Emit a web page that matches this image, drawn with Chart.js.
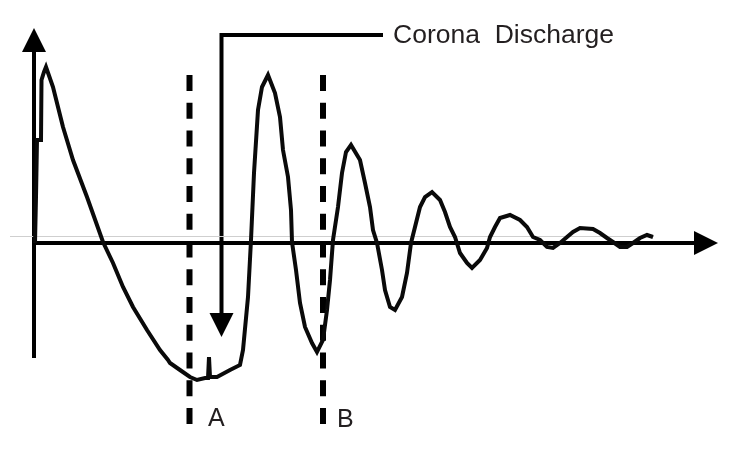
<!DOCTYPE html>
<html>
<head>
<meta charset="utf-8">
<script src="https://cdn.jsdelivr.net/npm/chart.js@4/dist/chart.umd.min.js"></script>
<style>
  html, body { margin: 0; padding: 0; background: #fff; }
  #wrap { width: 733px; height: 457px; }
</style>
</head>
<body>
<div id="wrap"><canvas id="c" width="733" height="457"></canvas></div>
<script>
// ---- data (time units, amplitude units) ----
const timeValues = [0.1, 0.2, 0.3, 0.7, 0.75, 1.0, 1.2, 1.9, 2.9, 3.9, 5.3, 6.9, 7.9, 8.9, 9.9, 11.3, 12.6, 13.4, 13.6, 14.6, 15.6, 16.3, 17.1, 17.4, 17.5, 17.6, 18.3, 19.6, 20.6, 20.9, 21.4, 21.7, 22.0, 22.4, 22.8, 23.4, 24.1, 24.6, 24.9, 25.4, 25.7, 25.8, 26.2, 26.6, 27.1, 27.8, 28.3, 28.9, 29.3, 29.6, 29.9, 30.4, 30.8, 31.2, 31.7, 32.6, 33.1, 33.6, 33.9, 34.3, 34.8, 35.1, 35.6, 36.1, 36.8, 37.3, 37.7, 38.1, 38.6, 39.1, 39.8, 40.6, 41.1, 41.6, 42.1, 42.6, 43.3, 43.8, 44.6, 45.3, 45.6, 46.1, 46.6, 47.6, 48.6, 49.3, 49.9, 50.6, 51.3, 51.9, 52.6, 53.3, 53.9, 54.6, 55.9, 56.6, 57.3, 57.9, 58.6, 59.3, 59.9, 60.6, 61.3, 61.9];
const signalValues = [0, 4.6, 10.3, 10.3, 16.3, 17.1, 17.6, 15.6, 11.6, 8.3, 4.6, 0.1, -2.0, -4.4, -6.4, -8.7, -10.7, -11.7, -12.0, -12.7, -13.4, -13.7, -13.5, -13.5, -11.4, -13.4, -13.4, -12.7, -12.2, -10.7, -5.4, 0.3, 7.0, 13.3, 15.6, 16.8, 15.0, 12.6, 9.3, 6.6, 3.3, 0.1, -2.7, -6.0, -8.4, -10.0, -10.9, -9.7, -6.7, -3.7, 0.3, 3.6, 7.0, 9.1, 9.8, 8.3, 6.0, 3.6, 1.3, 0, -2.7, -4.7, -6.4, -6.7, -5.4, -3.0, 0, 1.6, 3.6, 4.6, 5.1, 4.3, 3.1, 1.6, 0.6, -1.0, -2.0, -2.5, -1.7, -0.5, 0.6, 1.6, 2.5, 2.8, 2.3, 1.6, 0.6, 0.3, -0.4, -0.5, 0, 0.6, 1.1, 1.5, 1.4, 1.0, 0.5, 0.1, -0.4, -0.4, 0, 0.5, 0.8, 0.6];
const baselineTimes = [-2.4, 62.0];
const baselineLevel = [0.65, 0.65];
const markerLabels = ['A', 'B'];
const markerTimes = [15.55, 28.9];
const markerSpan = [16.8, -18.1];
const markerLabelPos = [[17.4, -18.3], [30.3, -18.4]];
const coronaLabel = 'Corona  Discharge';
const coronaArrow = { time: 18.75, top: 20.8, tip: -9.4, lineEnd: 34.9, textTime: 35.9, textLevel: 20.0 };
const axisTimeRange = [0, 68.4];
const axisLevelRange = [-11.5, 21.5];
const scaleX = [-3.4, 69.9];
const scaleY = [-21.4, 24.3];

const points = timeValues.map((t, i) => ({ x: t, y: signalValues[i] }));
const baseline = baselineTimes.map((t, i) => ({ x: t, y: baselineLevel[i] }));

const FONT = '"Liberation Sans", Arial, sans-serif';

const decor = {
  id: 'decor',
  beforeDatasetsDraw(chart) {
    const ctx = chart.ctx, xs = chart.scales.x, ys = chart.scales.y;
    const X = v => xs.getPixelForValue(v), Y = v => ys.getPixelForValue(v);
    ctx.save();
    // dashed markers
    ctx.strokeStyle = '#000';
    ctx.lineWidth = 6;
    ctx.setLineDash([16, 11.75]);
    markerTimes.forEach(t => {
      ctx.beginPath();
      ctx.moveTo(X(t), Y(markerSpan[0]));
      ctx.lineTo(X(t), Y(markerSpan[1]));
      ctx.stroke();
    });
    ctx.setLineDash([]);
    // axes
    ctx.lineWidth = 4;
    const ox = X(0), oy = Y(0);
    ctx.beginPath();
    ctx.moveTo(ox, Y(axisLevelRange[0]));
    ctx.lineTo(ox, Y(axisLevelRange[1]) + 20);
    ctx.stroke();
    ctx.beginPath();
    ctx.moveTo(ox - 1, oy);
    ctx.lineTo(X(axisTimeRange[1]) - 20, oy);
    ctx.stroke();
    ctx.fillStyle = '#000';
    // y arrow
    const ty = Y(axisLevelRange[1]);
    ctx.beginPath();
    ctx.moveTo(ox, ty);
    ctx.lineTo(ox - 12, ty + 24);
    ctx.lineTo(ox + 12, ty + 24);
    ctx.closePath();
    ctx.fill();
    // x arrow
    const tx = X(axisTimeRange[1]);
    ctx.beginPath();
    ctx.moveTo(tx, oy);
    ctx.lineTo(tx - 24, oy - 12);
    ctx.lineTo(tx - 24, oy + 12);
    ctx.closePath();
    ctx.fill();
    // corona arrow
    const ax = X(coronaArrow.time), atop = Y(coronaArrow.top), atip = Y(coronaArrow.tip);
    ctx.lineWidth = 4;
    ctx.beginPath();
    ctx.moveTo(X(coronaArrow.lineEnd), atop);
    ctx.lineTo(ax, atop);
    ctx.lineTo(ax, atip - 20);
    ctx.stroke();
    ctx.beginPath();
    ctx.moveTo(ax, atip);
    ctx.lineTo(ax - 12, atip - 24);
    ctx.lineTo(ax + 12, atip - 24);
    ctx.closePath();
    ctx.fill();
    ctx.restore();
  },
  afterDatasetsDraw(chart) {
    const ctx = chart.ctx, xs = chart.scales.x, ys = chart.scales.y;
    const X = v => xs.getPixelForValue(v), Y = v => ys.getPixelForValue(v);
    ctx.save();
    ctx.fillStyle = '#231f20';
    ctx.textAlign = 'left';
    ctx.textBaseline = 'alphabetic';
    ctx.font = '26.5px ' + FONT;
    ctx.fillText(coronaLabel, X(coronaArrow.textTime), Y(coronaArrow.textLevel));
    ctx.font = '25px ' + FONT;
    markerLabels.forEach((lab, i) => {
      ctx.fillText(lab, X(markerLabelPos[i][0]), Y(markerLabelPos[i][1]));
    });
    ctx.restore();
  }
};

new Chart(document.getElementById('c'), {
  type: 'scatter',
  data: {
    datasets: [
      {
        data: baseline,
        showLine: true,
        borderColor: '#cfcfcf',
        borderWidth: 1,
        pointRadius: 0,
        order: 2
      },
      {
        data: points,
        showLine: true,
        borderColor: '#0a0a0a',
        borderWidth: 4,
        pointRadius: 0,
        tension: 0,
        borderJoinStyle: 'miter',
        order: 1
      }
    ]
  },
  options: {
    responsive: false,
    animation: false,
    layout: { padding: 0 },
    plugins: { legend: { display: false }, tooltip: { enabled: false } },
    scales: {
      x: { type: 'linear', min: scaleX[0], max: scaleX[1], display: false },
      y: { type: 'linear', min: scaleY[0], max: scaleY[1], display: false }
    }
  },
  plugins: [decor]
});
</script>
</body>
</html>
